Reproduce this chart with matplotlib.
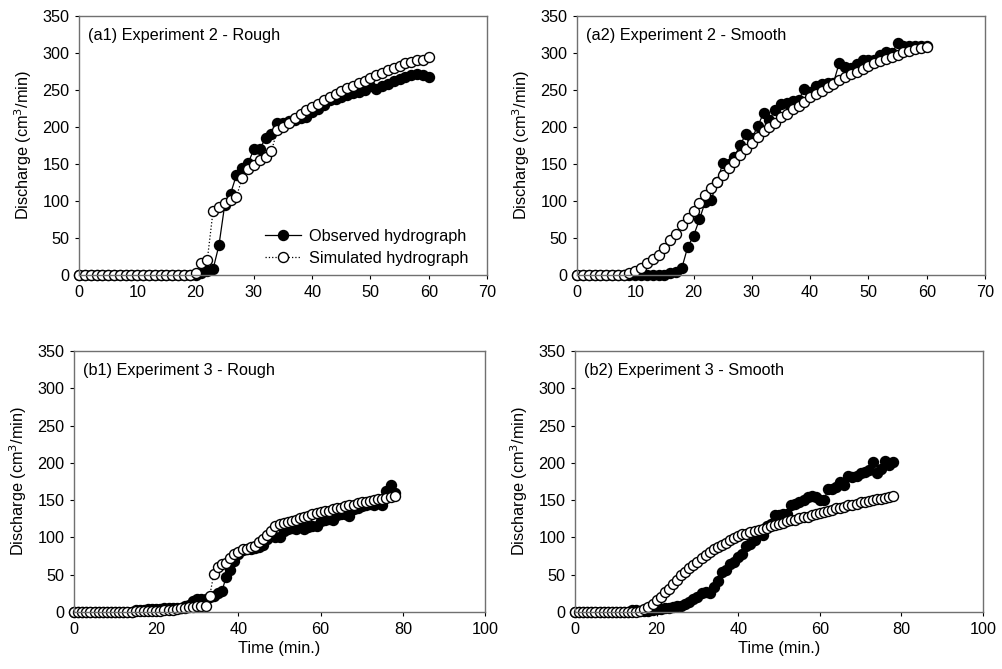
import matplotlib
matplotlib.use('Agg')
import matplotlib.pyplot as plt
from matplotlib.ticker import MultipleLocator

plt.rcParams['font.family'] = ['Liberation Sans', 'DejaVu Sans']
plt.rcParams['font.size'] = 11.7

# Experiment 2 - Rough (a1), time 0..60 min
t_a = list(range(0, 61))
obs_a1 = [0] * 21 + [2, 5, 8, 40, 95, 110, 135, 145, 151, 170, 170, 185, 191, 205, 205,
                     208, 210, 212, 214, 220, 225, 230, 236, 238, 241, 243, 246, 248, 250,
                     255, 252, 255, 258, 262, 265, 268, 270, 272, 270, 268]
sim_a1 = [0] * 20 + [2, 16, 20, 87, 92, 97, 101, 106, 131, 143, 149, 155, 160, 167, 196,
                     200, 205, 212, 218, 223, 227, 231, 236, 240, 245, 249, 253, 255, 260,
                     262, 266, 270, 273, 277, 280, 283, 286, 288, 290, 291, 294]

# Experiment 2 - Smooth (a2)
obs_a2 = [0] * 16 + [2, 4, 10, 38, 53, 75, 99, 101, 125, 151, 150, 160, 176, 191, 185,
                     201, 219, 210, 223, 231, 232, 235, 237, 251, 248, 255, 258, 260, 260,
                     287, 281, 280, 285, 290, 290, 290, 297, 302, 300, 313, 309, 310, 310,
                     310, 310]
sim_a2 = [0] * 9 + [3, 6, 10, 16, 21, 27, 36, 47, 56, 68, 77, 86, 97, 108, 117, 126, 135,
                    144, 153, 162, 170, 178, 186, 194, 200, 206, 213, 218, 224, 229, 234,
                    240, 244, 249, 254, 258, 263, 267, 271, 275, 278, 282, 286, 289, 292,
                    295, 298, 301, 303, 305, 307, 308]

# Experiment 3 - Rough (b1), time 0..78 min
t_b = list(range(0, 79))
obs_b1 = [0] * 15 + [3, 3, 3, 4, 4, 4, 4, 5, 5, 5, 5, 6, 8, 10, 15, 18, 18, 17, 20, 22, 25,
                     28, 47, 56, 68, 78, 83, 85, 85, 86, 87, 90, 98, 103, 100, 100, 108, 112,
                     113, 112, 115, 112, 114, 115, 116, 122, 123, 125, 123, 130, 131, 132,
                     129, 138, 140, 142, 143, 145, 144, 146, 144, 162, 170, 160]
sim_b1 = [0] * 15 + [1, 1, 1, 1, 2, 2, 2, 3, 3, 3, 4, 5, 6, 7, 7, 8, 8, 8, 21, 51, 60, 65,
                     66, 72, 78, 81, 84, 85, 87, 89, 94, 98, 103, 109, 115, 118, 119, 121,
                     122, 124, 126, 127, 129, 131, 133, 134, 135, 136, 138, 139, 140, 142,
                     143, 144, 146, 147, 148, 149, 150, 151, 152, 153, 154, 156]

# Experiment 3 - Smooth (b2)
obs_b2 = [0] * 14 + [3, 3, 1, 1, 2, 3, 4, 4, 5, 6, 7, 8, 8, 11, 13, 18, 20, 25, 27, 25, 34,
                     42, 54, 56, 65, 67, 74, 78, 89, 91, 97, 105, 103, 116, 118, 130, 130,
                     132, 132, 143, 145, 148, 150, 154, 156, 154, 150, 150, 165, 165, 168,
                     174, 170, 182, 181, 183, 186, 188, 190, 201, 186, 192, 202, 197, 201]
sim_b2 = [0] * 16 + [2, 4, 7, 11, 16, 20, 27, 31, 38, 43, 49, 54, 59, 63, 67, 72, 76, 80, 84,
                     87, 90, 93, 96, 99, 102, 104, 105, 107, 109, 110, 112, 113, 115, 117,
                     118, 120, 122, 123, 124, 126, 127, 128, 130, 131, 133, 134, 135, 137,
                     139, 140, 141, 143, 144, 145, 147, 148, 149, 150, 151, 152, 153, 154,
                     156]

titles = ['(a1) Experiment 2 - Rough', '(a2) Experiment 2 - Smooth',
          '(b1) Experiment 3 - Rough', '(b2) Experiment 3 - Smooth']

fig = plt.figure(figsize=(10.03, 6.69), dpi=100)
rects = [
    [0.0788, 0.589, 0.4068, 0.387],
    [0.5753, 0.589, 0.4068, 0.387],
    [0.0738, 0.0852, 0.4098, 0.390],
    [0.5733, 0.0852, 0.4068, 0.390],
]
panels = [
    (t_a, obs_a1, sim_a1, 70, 10),
    (t_a, obs_a2, sim_a2, 70, 10),
    (t_b, obs_b1, sim_b1, 100, 20),
    (t_b, obs_b2, sim_b2, 100, 20),
]

fs = 11.7
spine_col = '#707070'
for i, (rect, (t, obs, sim, xmax, xstep)) in enumerate(zip(rects, panels)):
    ax = fig.add_axes(rect)
    ax.plot(t, sim, color='black', linestyle=':', linewidth=0.9, marker='o',
            markersize=7.2, markerfacecolor='white', markeredgecolor='black',
            markeredgewidth=1.0, label='Simulated hydrograph', zorder=2)
    ax.plot(t, obs, color='black', linestyle='-', linewidth=0.9, marker='o',
            markersize=7.2, markerfacecolor='black', markeredgecolor='black',
            label='Observed hydrograph', zorder=1)
    ax.set_xlim(0, xmax)
    ax.set_ylim(0, 350)
    ax.xaxis.set_major_locator(MultipleLocator(xstep))
    ax.yaxis.set_major_locator(MultipleLocator(50))
    for s in ax.spines.values():
        s.set_color(spine_col)
        s.set_linewidth(1.0)
    ax.tick_params(direction='out', length=3, width=0.8, color='black',
                   labelsize=fs, pad=4)
    ax.set_ylabel('Discharge (cm$^3$/min)', fontsize=fs, labelpad=6)
    ax.text(0.022, 0.955, titles[i], transform=ax.transAxes, fontsize=fs,
            ha='left', va='top')
    for m in ax.lines:
        m.set_clip_on(False)
    if i >= 2:
        ax.set_xlabel('Time (min.)', fontsize=fs, labelpad=3)
    if i == 0:
        h, l = ax.get_legend_handles_labels()
        ax.legend(h[::-1], l[::-1], loc='lower right', bbox_to_anchor=(0.99, -0.02),
                  frameon=False, fontsize=fs, handlelength=2.2, labelspacing=0.4,
                  handletextpad=0.5)

fig.savefig('out.png', dpi=100)
